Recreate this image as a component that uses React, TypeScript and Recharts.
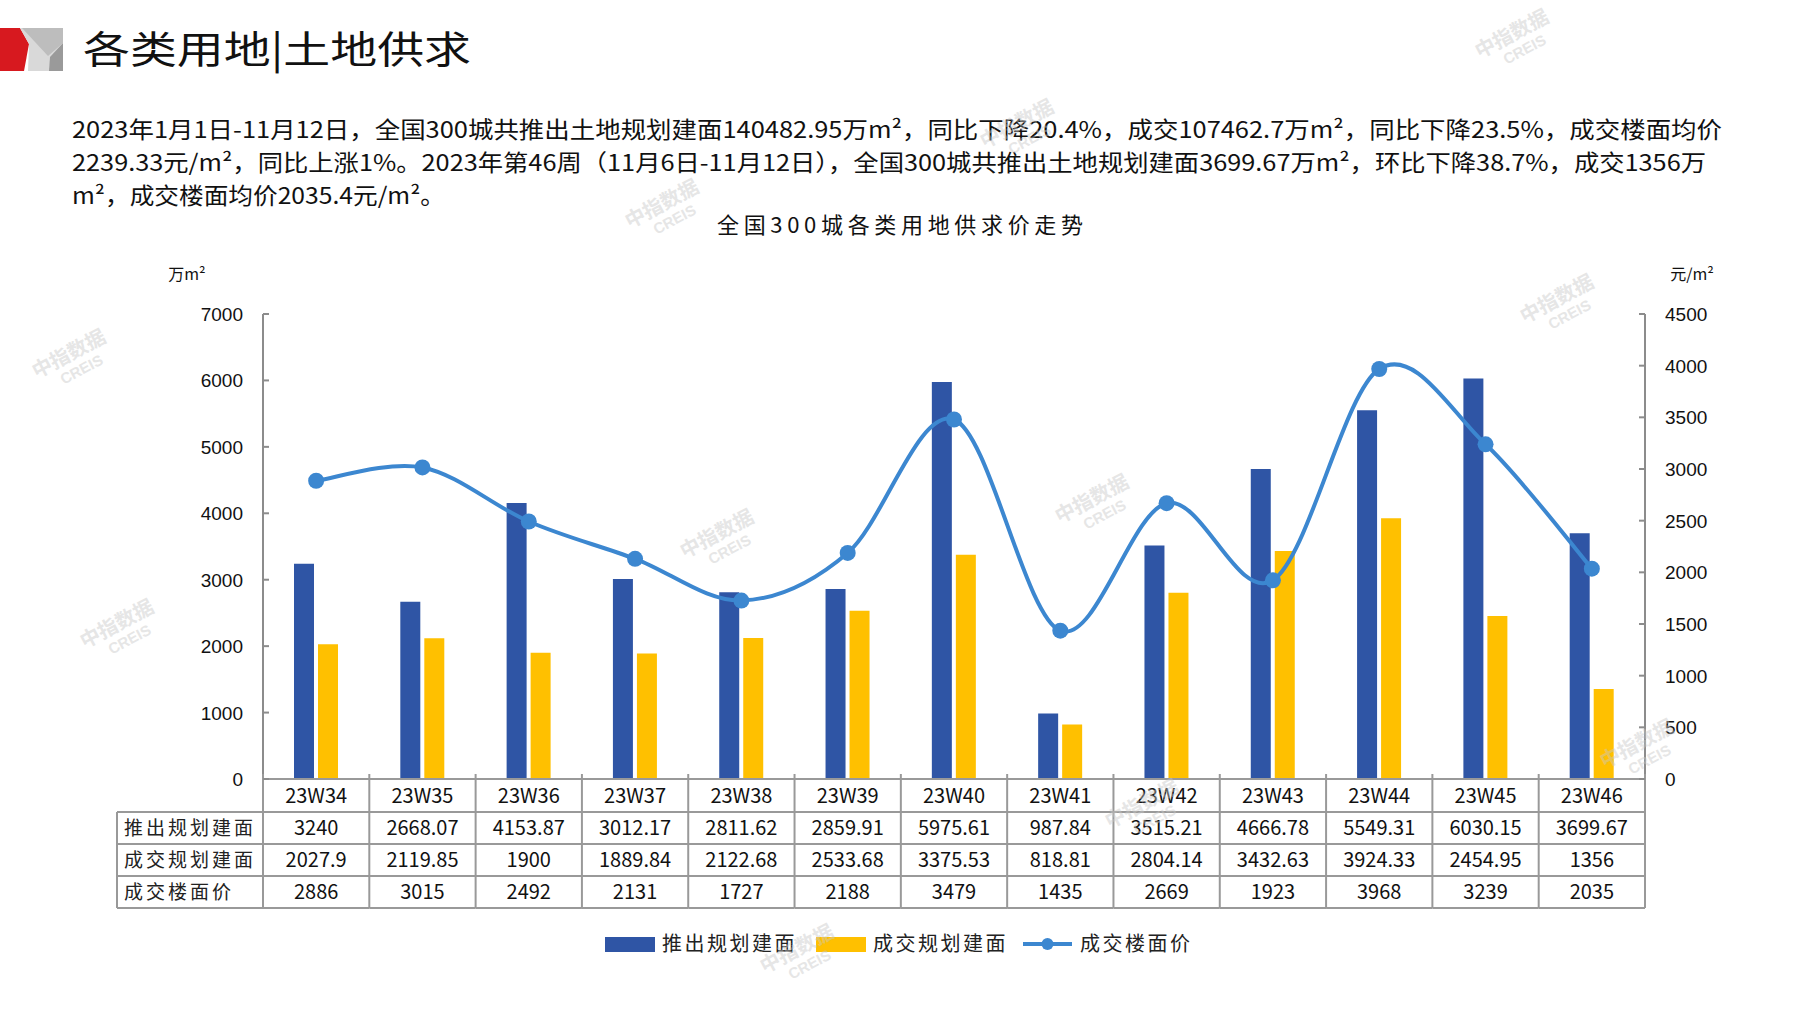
import React from "react"
import { Bar, ComposedChart, Line, XAxis, YAxis } from "recharts"

const weeks = ["23W34", "23W35", "23W36", "23W37", "23W38", "23W39", "23W40", "23W41", "23W42", "23W43", "23W44", "23W45", "23W46"]
const launched = [3240, 2668.07, 4153.87, 3012.17, 2811.62, 2859.91, 5975.61, 987.84, 3515.21, 4666.78, 5549.31, 6030.15, 3699.67]
const sold = [2027.9, 2119.85, 1900, 1889.84, 2122.68, 2533.68, 3375.53, 818.81, 2804.14, 3432.63, 3924.33, 2454.95, 1356]
const price = [2886, 3015, 2492, 2131, 1727, 2188, 3479, 1435, 2669, 1923, 3968, 3239, 2035]
const rowLabels = ["推出规划建面", "成交规划建面", "成交楼面价"]
const leftTicks = [0, 1000, 2000, 3000, 4000, 5000, 6000, 7000]
const rightTicks = [0, 500, 1000, 1500, 2000, 2500, 3000, 3500, 4000, 4500]

const colors = {
  launched: "#2F55A5",
  sold: "#FFC000",
  price: "#3C87D0",
  axis: "#8C8C8C",
}

const data = weeks.map((w, i) => ({ week: w, launched: launched[i], sold: sold[i], price: price[i] }))

const FONT = "'Noto Sans CJK SC', 'Noto Sans', sans-serif"
const NARROW = "'Liberation Sans Narrow', 'Noto Sans CJK SC', sans-serif"

// smooth line like the office "smoothed line" (catmull-rom through points)
function smoothCurve(context: any) {
  let pts: number[][] = []
  return {
    areaStart() {},
    areaEnd() {},
    lineStart() {
      pts = []
    },
    point(x: number, y: number) {
      pts.push([+x, +y])
    },
    lineEnd() {
      if (!pts.length) return
      context.moveTo(pts[0][0], pts[0][1])
      for (let i = 0; i < pts.length - 1; i++) {
        const p0 = pts[i - 1] || pts[i]
        const p1 = pts[i]
        const p2 = pts[i + 1]
        const p3 = pts[i + 2] || p2
        context.bezierCurveTo(
          p1[0] + (p2[0] - p0[0]) / 6,
          p1[1] + (p2[1] - p0[1]) / 6,
          p2[0] - (p3[0] - p1[0]) / 6,
          p2[1] - (p3[1] - p1[1]) / 6,
          p2[0],
          p2[1]
        )
      }
    },
  }
}

const TICK_GAP = 20

const LeftTick = (props: any) => {
  const { x, y, payload } = props
  const ax = x + TICK_GAP
  return (
    <g>
      <line x1={ax} x2={ax + 6} y1={y} y2={y} stroke={colors.axis} strokeWidth={2} />
      <text x={x} y={y} dy={7} textAnchor="end" fontSize={19} fontFamily="'Liberation Sans', Arial, sans-serif" fill="#111">
        {payload.value}
      </text>
    </g>
  )
}

const RightTick = (props: any) => {
  const { x, y, payload } = props
  const ax = x - TICK_GAP
  return (
    <g>
      <line x1={ax} x2={ax - 6} y1={y} y2={y} stroke={colors.axis} strokeWidth={2} />
      <text x={x} y={y} dy={7} textAnchor="start" fontSize={19} fontFamily="'Liberation Sans', Arial, sans-serif" fill="#111">
        {payload.value}
      </text>
    </g>
  )
}

const rowH = [33, 32, 32, 32]
const labelColW = 146

const TableTick = (props: any) => {
  const { x, y, payload, index } = props
  const band = props.width && props.visibleTicksCount ? props.width / props.visibleTicksCount : 1382 / 13
  const i = index ?? weeks.indexOf(payload.value)
  const left = x - band / 2
  const values = [payload.value, launched[i], sold[i], price[i]]
  const tops = rowH.map((_, k) => y + rowH.slice(0, k).reduce((a, b) => a + b, 0))
  const bottom = y + rowH.reduce((a, b) => a + b, 0)
  return (
    <g>
      <line x1={left} x2={left} y1={y - 5} y2={bottom} stroke="#999" strokeWidth={2} />
      {i === weeks.length - 1 && <line x1={left + band} x2={left + band} y1={y - 5} y2={bottom} stroke="#999" strokeWidth={2} />}
      {tops.map((t, k) => (
        <line key={k} x1={left} x2={left + band} y1={t} y2={t} stroke="#999" strokeWidth={2} />
      ))}
      <line x1={left} x2={left + band} y1={bottom} y2={bottom} stroke="#999" strokeWidth={2} />
      {values.map((v, k) => (
        <text
          key={k}
          x={x}
          y={tops[k] + rowH[k] / 2}
          dy={7}
          textAnchor="middle"
          fontSize={20}
          fontFamily={NARROW}
          fill="#111"
        >
          {String(v)}
        </text>
      ))}
      {i === 0 && (
        <g>
          <line x1={left - labelColW} x2={left - labelColW} y1={tops[1]} y2={bottom} stroke="#999" strokeWidth={2} />
          {tops.slice(1).map((t, k) => (
            <line key={k} x1={left - labelColW} x2={left} y1={t} y2={t} stroke="#999" strokeWidth={2} />
          ))}
          <line x1={left - labelColW} x2={left} y1={bottom} y2={bottom} stroke="#999" strokeWidth={2} />
          {rowLabels.map((r, k) => (
            <text
              key={r}
              x={left - labelColW + 7}
              y={tops[k + 1] + rowH[k + 1] / 2}
              dy={7}
              fontSize={19}
              letterSpacing={3}
              fontFamily={FONT}
              fill="#222"
            >
              {r}
            </text>
          ))}
        </g>
      )}
    </g>
  )
}

const paragraph = [
  "2023年1月1日-11月12日，全国300城共推出土地规划建面140482.95万m²，同比下降20.4%，成交107462.7万m²，同比下降23.5%，成交楼面均价",
  "2239.33元/m²，同比上涨1%。2023年第46周（11月6日-11月12日），全国300城共推出土地规划建面3699.67万m²，环比下降38.7%，成交1356万",
  "m²，成交楼面均价2035.4元/m²。",
]
const paragraphWidths = [1650, 1634, 373]

const legendItems = [
  { name: "推出规划建面", color: colors.launched, kind: "rect" },
  { name: "成交规划建面", color: colors.sold, kind: "rect" },
  { name: "成交楼面价", color: colors.price, kind: "line" },
]

const watermarks = [
  [1515, 40],
  [665, 210],
  [1560, 305],
  [72, 360],
  [720, 540],
  [1095, 505],
  [120, 630],
  [1640, 750],
  [1145, 810],
  [800, 955],
  [1020, 130],
]

export default function App() {
  return (
    <div style={{ position: "absolute", left: 0, top: 0, width: 1797, height: 1010, background: "#fff", overflow: "hidden" }}>
      <svg width={1797} height={1010} style={{ position: "absolute", left: 0, top: 0 }}>
        {/* header logo */}
        <polygon points="0,28 20,28 29,44 24,71 0,71" fill="#D7191F" />
        <polygon points="20,28 63,28 63,71 28,71 29,44" fill="#D9D9D9" />
        <polygon points="63,43 63,71 49,71 50,57" fill="#9A9A9A" />
        <polygon points="22,28 63,28 63,43 48,56" fill="#BDBDBD" />
        <text x={83} y={63} fontSize={38} fontFamily={FONT} fill="#111" textLength={388} lengthAdjust="spacingAndGlyphs">
          各类用地|土地供求
        </text>
        {paragraph.map((p, i) => (
          <text
            key={i}
            x={72}
            y={138 + i * 33}
            fontSize={23}
            fontFamily={NARROW}
            fill="#111"
            textLength={paragraphWidths[i]}
            lengthAdjust="spacingAndGlyphs"
          >
            {p}
          </text>
        ))}
        <text x={900} y={233} textAnchor="middle" fontSize={22} fontFamily={FONT} fill="#111" textLength={366}>
          全国300城各类用地供求价走势
        </text>
        <text x={187} y={280} textAnchor="middle" fontSize={16} fontFamily={FONT} fill="#111">
          万m²
        </text>
        <text x={1692} y={280} textAnchor="middle" fontSize={16} fontFamily={FONT} fill="#111">
          元/m²
        </text>
        {legendItems.map((it, i) => {
          const x0 = [605, 816, 1023][i]
          return (
            <g key={it.name}>
              {it.kind === "rect" ? (
                <rect x={x0} y={937} width={50} height={15} fill={it.color} />
              ) : (
                <g>
                  <line x1={x0} x2={x0 + 49} y1={944} y2={944} stroke={it.color} strokeWidth={4} />
                  <circle cx={x0 + 24.5} cy={944} r={6} fill={it.color} />
                </g>
              )}
              <text x={x0 + 57} y={951} fontSize={20} letterSpacing={2.5} fontFamily={FONT} fill="#222">
                {it.name}
              </text>
            </g>
          )
        })}
      </svg>
      <div style={{ position: "absolute", left: 0, top: 0 }}>
        <ComposedChart width={1797} height={1010} data={data} margin={{ top: 314, right: 52, bottom: 101, left: 183 }}>
          <XAxis
            dataKey="week"
            height={130}
            tickSize={0}
            tickMargin={0}
            interval={0}
            axisLine={{ stroke: colors.axis, strokeWidth: 2 }}
            tick={<TableTick />}
          />
          <YAxis
            yAxisId="left"
            width={80}
            domain={[0, 7000]}
            ticks={leftTicks}
            tickSize={0}
            tickMargin={TICK_GAP}
            axisLine={{ stroke: colors.axis, strokeWidth: 2 }}
            tick={<LeftTick />}
          />
          <YAxis
            yAxisId="right"
            orientation="right"
            width={100}
            domain={[0, 4500]}
            ticks={rightTicks}
            tickSize={0}
            tickMargin={TICK_GAP}
            axisLine={{ stroke: colors.axis, strokeWidth: 2 }}
            tick={<RightTick />}
          />
          <Bar yAxisId="left" dataKey="launched" name="推出规划建面" fill={colors.launched} barSize={20} isAnimationActive={false} />
          <Bar yAxisId="left" dataKey="sold" name="成交规划建面" fill={colors.sold} barSize={20} isAnimationActive={false} />
          <Line
            yAxisId="right"
            dataKey="price"
            name="成交楼面价"
            type={smoothCurve as any}
            stroke={colors.price}
            strokeWidth={4}
            dot={{ r: 8, fill: colors.price, stroke: colors.price, strokeWidth: 0 }}
            activeDot={false}
            isAnimationActive={false}
          />
        </ComposedChart>
      </div>
      <svg width={1797} height={1010} style={{ position: "absolute", left: 0, top: 0, pointerEvents: "none" }}>
        {watermarks.map(([x, y], i) => (
          <g key={i} transform={`translate(${x},${y}) rotate(-28)`} fill="#C8C8C8" opacity={0.45}>
            <text x={0} y={0} textAnchor="middle" fontSize={20} fontWeight={700} fontFamily={FONT}>
              中指数据
            </text>
            <text x={4} y={18} textAnchor="middle" fontSize={15} fontWeight={700} fontFamily="'Liberation Sans', sans-serif">
              CREIS
            </text>
          </g>
        ))}
      </svg>
    </div>
  )
}
